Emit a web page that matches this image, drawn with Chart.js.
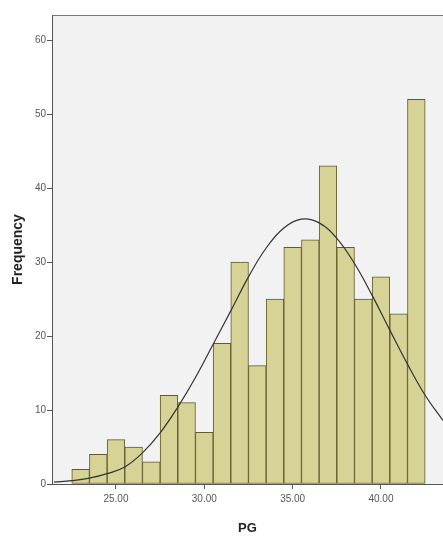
<!DOCTYPE html>
<html>
<head>
<meta charset="utf-8">
<script src="https://cdn.jsdelivr.net/npm/chart.js@4.4.1/dist/chart.umd.min.js"></script>
<style>
  html, body { margin: 0; padding: 0; background: #fff; }
  canvas { display: block; }
</style>
</head>
<body>
<canvas id="c" width="443" height="536"></canvas>
<script>
// histogram bins (centre of each 1-unit bin) and counts
const binCentres = [23, 24, 25, 26, 27, 28, 29, 30, 31, 32, 33, 34, 35, 36, 37, 38, 39, 40, 41, 42];
const counts = [2, 4, 6, 5, 3, 12, 11, 7, 19, 30, 16, 25, 32, 33, 43, 32, 25, 28, 23, 52];

// normal curve
const curveX = [21.5, 22.5, 23.5, 24.5, 25.5, 26.5, 27.5, 28.5, 29.5, 30.5, 31.5, 32.5,
  33.5, 34.5, 35.5, 36.5, 37.5, 38.5, 39.5, 40.5, 41.5, 42.5, 43.5];
const curveY = [0.25, 0.45, 0.8, 1.4, 2.3, 4.2, 6.9, 10.4, 14.4, 18.9, 23.4, 28.0,
  31.9, 34.6, 35.8, 35.3, 33.2, 29.8, 25.5, 20.8, 16.2, 12.0, 8.6];

const xTicks = [25, 30, 35, 40];
const yTicks = [0, 10, 20, 30, 40, 50, 60];

const tickFont = { family: 'Liberation Sans', size: 10 };

// grey plot background + top frame line
const plotBg = {
  id: 'plotBg',
  beforeDraw(chart) {
    const { ctx, chartArea: a } = chart;
    ctx.save();
    ctx.fillStyle = '#f2f2f2';
    ctx.fillRect(a.left, a.top, a.right - a.left, a.bottom - a.top);
    ctx.strokeStyle = '#777';
    ctx.lineWidth = 1;
    ctx.beginPath();
    ctx.moveTo(a.left, a.top + 0.5);
    ctx.lineTo(a.right, a.top + 0.5);
    ctx.stroke();
    ctx.restore();
  }
};

new Chart(document.getElementById('c'), {
  type: 'bar',
  data: {
    datasets: [
      {
        type: 'line',
        data: curveX.map((x, i) => ({ x: x, y: curveY[i] })),
        borderColor: '#333',
        borderWidth: 1.2,
        pointRadius: 0,
        tension: 0.4,
        fill: false,
        order: 0
      },
      {
        data: binCentres.map((x, i) => ({ x: x, y: counts[i] })),
        backgroundColor: 'rgb(215, 211, 150)',
        borderColor: '#5f5b2c',
        borderWidth: 1,
        borderSkipped: false,
        barPercentage: 1,
        categoryPercentage: 1,
        order: 1
      }
    ]
  },
  options: {
    responsive: false,
    devicePixelRatio: 1,
    animation: false,
    layout: { padding: { top: 15, right: 0, bottom: 0, left: 0 } },
    plugins: { legend: { display: false }, tooltip: { enabled: false } },
    scales: {
      x: {
        type: 'linear',
        min: 21.38,
        max: 43.51,
        offset: false,
        afterFit(s) { s.height = 52; },
        afterBuildTicks(s) { s.ticks = xTicks.map(v => ({ value: v })); },
        grid: { display: true, drawOnChartArea: false, drawTicks: true, tickLength: 5, color: '#555', offset: false },
        border: { display: true, color: '#555', width: 1 },
        ticks: {
          font: tickFont,
          color: '#555',
          padding: 4,
          maxRotation: 0,
          callback: v => Number(v).toFixed(2)
        },
        title: {
          display: true,
          text: 'PG',
          font: { family: 'Liberation Sans', size: 13, weight: 'bold' },
          color: '#222',
          padding: { top: 3, bottom: 0 }
        }
      },
      y: {
        min: 0,
        max: 63.4,
        afterFit(s) { s.width = 52; },
        afterBuildTicks(s) { s.ticks = yTicks.map(v => ({ value: v })); },
        grid: { display: true, drawOnChartArea: false, drawTicks: true, tickLength: 5, color: '#555' },
        border: { display: true, color: '#555', width: 1 },
        ticks: { font: tickFont, color: '#555', padding: 1 },
        title: {
          display: true,
          text: 'Frequency',
          font: { family: 'Liberation Sans', size: 14, weight: 'bold' },
          color: '#222',
          padding: { top: 10, bottom: 0 }
        }
      }
    }
  },
  plugins: [plotBg]
});
</script>
</body>
</html>
